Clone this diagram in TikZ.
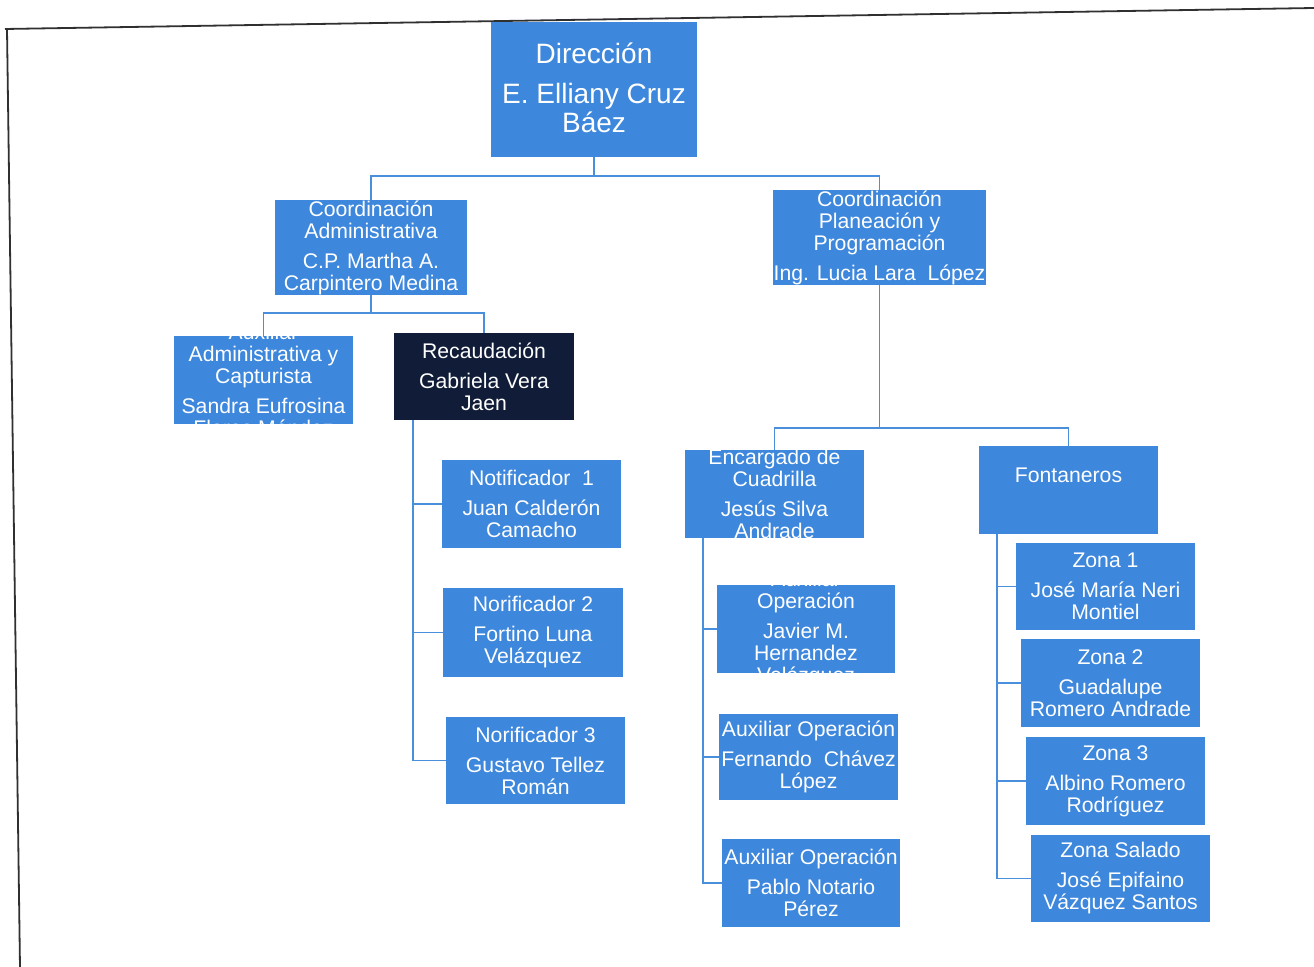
\documentclass[tikz,border=0pt]{standalone}
\usepackage{fontspec}
\setmainfont{Liberation Sans}
\usetikzlibrary{calc}
\definecolor{boxblue}{HTML}{3D87DC}
\definecolor{navybox}{HTML}{101C38}
\definecolor{linkblue}{HTML}{4A8FDC}
\definecolor{framegray}{HTML}{303030}
\tikzset{
  box/.style={fill=boxblue, draw=none, inner sep=0pt, outer sep=0pt},
  txt/.style={text=white, align=center, inner sep=0pt, font=\fontsize{10.6}{11}\selectfont},
  bigtxt/.style={text=white, align=center, inner sep=0pt, font=\fontsize{14}{14.5}\selectfont},
  link/.style={draw=linkblue, line width=0.6pt},
  frameline/.style={draw=framegray, line width=0.9pt}
}
\newcommand\orgbox[7][boxblue]{%
  \node[box, fill=#1, minimum width={(#5-#3)*0.5pt}, minimum height={(#6-#4)*0.5pt},
    path picture={\node[txt] at (path picture bounding box.center) {#7};}]
    (#2) at ({(#3+#5)/2},{(#4+#6)/2}) {};}
\begin{document}
\begin{tikzpicture}[x=0.5pt, y=-0.5pt]
\useasboundingbox (0,0) rectangle (1314,967);
% frame of the scanned page
\draw[frameline] (5,29) -- (1314,8);
\draw[frameline] (7,29) -- (20,967);

% Direccion
\node[box, minimum width={206*0.5pt}, minimum height={135*0.5pt},
  path picture={\node[bigtxt] at ($(path picture bounding box.center)+(0,-2)$) {Dirección\\[5.5pt]E. Elliany Cruz\\Báez};}]
  (dir) at (594,89.5) {};

\orgbox{cadm}{275}{200}{467}{295}{Coordinación\\Administrativa\\[4pt]C.P. Martha A.\\Carpintero Medina}
\orgbox{cplan}{773}{190}{986}{285}{Coordinación\\Planeación y\\Programación\\[4pt]Ing. Lucia Lara~ López}

\orgbox{aux}{174}{336}{353}{424}{Auxiliar\\Administrativa y\\Capturista\\[4pt]Sandra Eufrosina\\Flores Méndez}
\orgbox[navybox]{rec}{394}{333}{574}{420}{Recaudación\\[4pt]Gabriela Vera\\Jaen}

\orgbox{n1}{442}{460}{621}{548}{Notificador~ 1\\[4pt]Juan Calderón\\Camacho}
\orgbox{n2}{443}{588}{623}{677}{Norificador 2\\[4pt]Fortino Luna\\Velázquez}
\orgbox{n3}{446}{717}{625}{804}{Norificador 3\\[4pt]Gustavo Tellez\\Román}

\orgbox{enc}{685}{450}{864}{538}{Encargado de\\Cuadrilla\\[4pt]Jesús Silva\\Andrade}
\node[box, minimum width={179*0.5pt}, minimum height={88*0.5pt},
  path picture={\node[txt] at ($(path picture bounding box.center)+(0,-15)$) {Fontaneros};}]
  (fon) at (1068.5,490) {};

\orgbox{a1}{717}{585}{895}{673}{Auxiliar\\Operación\\[4pt]Javier M.\\Hernandez\\Velázquez}
\orgbox{a2}{719}{714}{898}{800}{Auxiliar Operación\\[4pt]Fernando~ Chávez\\López}
\orgbox{a3}{722}{839}{900}{927}{Auxiliar Operación\\[4pt]Pablo Notario\\Pérez}

\orgbox{z1}{1016}{543}{1195}{630}{Zona 1\\[4pt]José María Neri\\Montiel}
\orgbox{z2}{1021}{639}{1200}{727}{Zona 2\\[4pt]Guadalupe\\Romero Andrade}
\orgbox{z3}{1026}{737}{1205}{825}{Zona 3\\[4pt]Albino Romero\\Rodríguez}
\orgbox{z4}{1031}{835}{1210}{922}{Zona Salado\\[4pt]José Epifaino\\Vázquez Santos}

% connectors
\coordinate (busA) at ($(dir.south)+(0,19)$);
\draw[link] (dir.south) -- (busA) -| (cadm.north);
\draw[link] (busA) -| (cplan.north);

\coordinate (busB) at ($(cadm.south)+(0,18)$);
\draw[link] (cadm.south) -- (busB) -| (aux.north);
\draw[link] (busB) -| (rec.north);

\coordinate (recL) at ($(rec.south west)+(19,0)$);
\draw[link] (recL) |- (n1.west);
\draw[link] (recL) |- (n2.west);
\draw[link] (recL) |- (n3.west);

\coordinate (busC) at ($(cplan.south)+(0,143)$);
\draw[link] (cplan.south) -- (busC) -| (enc.north);
\draw[link] (busC) -| (fon.north);

\coordinate (encL) at ($(enc.south west)+(18,0)$);
\draw[link] (encL) |- (a1.west);
\draw[link] (encL) |- (a2.west);
\draw[link] (encL) |- (a3.west);

\coordinate (fonL) at ($(fon.south west)+(18,0)$);
\draw[link] (fonL) |- (z1.west);
\draw[link] (fonL) |- (z2.west);
\draw[link] (fonL) |- (z3.west);
\draw[link] (fonL) |- (z4.west);
\end{tikzpicture}
\end{document}
